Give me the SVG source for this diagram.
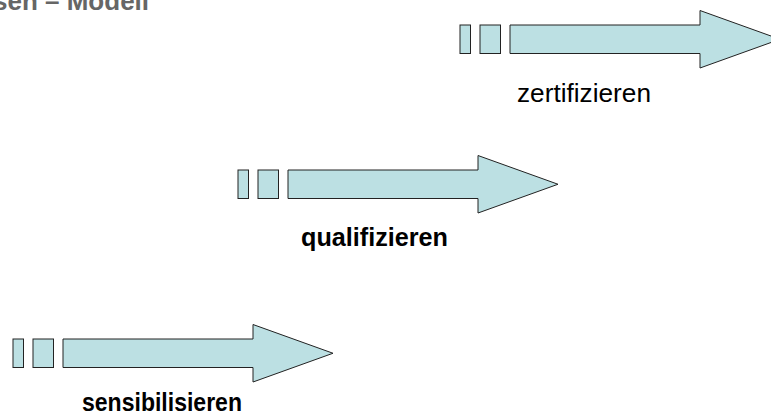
<svg xmlns="http://www.w3.org/2000/svg" xmlns:xlink="http://www.w3.org/1999/xlink" width="771" height="419" viewBox="0 0 771 419">
  <style>
    .shape { fill: #bce0e3; stroke: #222222; stroke-width: 1; }
    .lbl { font-family: "Liberation Sans", Arial, sans-serif; font-size: 25px; fill: #000000; }
    .bold { font-weight: bold; }
    .title { font-family: "Liberation Sans", Arial, sans-serif; font-size: 26px; font-weight: bold; fill: #666666; }
  </style>
  <defs>
    <g id="stepArrow">
      <rect class="shape" x="0" y="0" width="10.5" height="28.5"/>
      <rect class="shape" x="20" y="0" width="20.5" height="28.5"/>
      <path class="shape" d="M 50 0 H 240 V -14.5 L 320 14.25 L 240 43 V 28.5 H 50 Z"/>
    </g>
  </defs>
  <rect width="771" height="419" fill="#ffffff"/>
  <g id="title">
    <text class="title" x="-7" y="10">sen – Modell</text>
  </g>
  <g id="connectors"/>
  <g id="node-zertifizieren">
    <use xlink:href="#stepArrow" href="#stepArrow" transform="translate(460,25)"/>
    <text class="lbl" x="517" y="102" textLength="134" lengthAdjust="spacingAndGlyphs">zertifizieren</text>
  </g>
  <g id="node-qualifizieren">
    <use xlink:href="#stepArrow" href="#stepArrow" transform="translate(238,170)"/>
    <text class="lbl bold" x="301" y="246" textLength="147" lengthAdjust="spacingAndGlyphs">qualifizieren</text>
  </g>
  <g id="node-sensibilisieren">
    <use xlink:href="#stepArrow" href="#stepArrow" transform="translate(13,339)"/>
    <text class="lbl bold" x="82" y="411" textLength="160" lengthAdjust="spacingAndGlyphs">sensibilisieren</text>
  </g>
</svg>
